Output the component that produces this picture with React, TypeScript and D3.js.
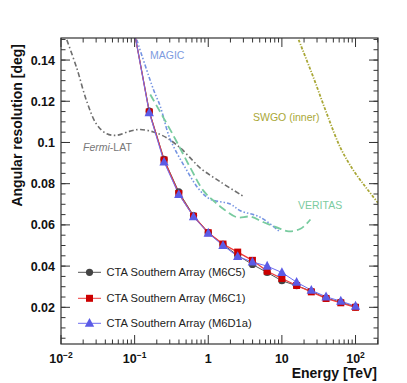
import React from 'react';
import * as d3 from 'd3';

// CTA energy bins [TeV] (5 per decade) and resolutions [deg]
const ctaEnergy = [0.1, 0.158, 0.251, 0.398, 0.631, 1, 1.585, 2.51, 3.98, 6.31, 10, 15.85, 25.1, 39.8, 63.1, 100];
const ctaM6C5 = [0.153, 0.1152, 0.0918, 0.076, 0.0645, 0.0563, 0.0505, 0.0452, 0.0408, 0.0369, 0.0329, 0.0305, 0.0278, 0.0245, 0.0225, 0.0202];
const ctaM6C1 = [0.153, 0.1148, 0.0915, 0.0752, 0.0642, 0.0562, 0.0507, 0.0468, 0.0428, 0.0375, 0.034, 0.0306, 0.0275, 0.0243, 0.0222, 0.02];
const ctaM6D1a = [0.153, 0.1145, 0.0905, 0.0748, 0.064, 0.056, 0.05, 0.0447, 0.042, 0.04, 0.0369, 0.0322, 0.0283, 0.0251, 0.023, 0.0206];

// other instruments
const fermiE = [0.012, 0.0164, 0.0224, 0.0306, 0.0419, 0.0573, 0.0869, 0.119, 0.18, 0.275, 0.416, 0.625, 0.778, 1.455, 3.02];
const fermiR = [0.1498, 0.136, 0.1199, 0.1087, 0.1042, 0.1035, 0.1055, 0.1063, 0.1051, 0.1022, 0.0974, 0.091, 0.0876, 0.0809, 0.0738];

const magicE = [0.107, 0.18, 0.222, 0.304, 0.486, 0.778, 1.064, 1.99, 2.72, 5.09, 9.55];
const magicR = [0.1498, 0.1257, 0.1177, 0.1016, 0.0878, 0.0765, 0.0725, 0.0701, 0.0669, 0.0637, 0.0564];

const veritasE = [0.163, 0.337, 0.569, 0.863, 1.18, 1.61, 2.45, 3.72, 5.65, 9.55, 12.4, 17.9, 24.4];
const veritasR = [0.1233, 0.1033, 0.0878, 0.0765, 0.0717, 0.0677, 0.0637, 0.064, 0.0613, 0.0581, 0.0569, 0.0581, 0.0626];

const swgoE = [16.9, 27.1, 41.2, 62.5, 94.8, 144, 206];
const swgoR = [0.1498, 0.1311, 0.1135, 0.0974, 0.0862, 0.0774, 0.0703];

const legendLabels = ['CTA Southern Array (M6C5)', 'CTA Southern Array (M6C1)', 'CTA Southern Array (M6D1a)'];

const W = 407;
const H = 383;
const left = 61, right = 378, top = 38, bottom = 344;
const font = '"Liberation Sans", Arial, Helvetica, sans-serif';

export default function App() {
  const x = d3.scaleLog().domain([0.01, 202]).range([left, right]);
  const y = d3.scaleLinear().domain([0.0022, 0.1507]).range([bottom, top]);

  const curve = (xs: number[], ys: number[], c: d3.CurveFactory) =>
    d3.line<number>().x((_, i) => x(xs[i])).y((_, i) => y(ys[i])).curve(c)(xs.map((_, i) => i)) || '';

  const poly = (ys: number[]) => curve(ctaEnergy, ys, d3.curveLinear);

  // ticks
  const xMajor = [0.01, 0.1, 1, 10, 100];
  const xMinor: number[] = [];
  [0.01, 0.1, 1, 10, 100].forEach(d => {
    for (let k = 2; k <= 9; k++) if (d * k <= 202) xMinor.push(d * k);
  });
  const yMajor = [0.02, 0.04, 0.06, 0.08, 0.1, 0.12, 0.14];
  const yMinor = d3.range(1, 31).map(i => i * 0.005).filter(v => v > 0.0022 && v < 0.1507);
  const xLabels = [['10', '\u22122'], ['10', '\u22121'], ['1', ''], ['10', ''], ['10', '2']];
  const yLabels = ['0.02', '0.04', '0.06', '0.08', '0.1', '0.12', '0.14'];

  const inFrame = (v: number) => v <= 0.1507 && v >= 0.0022;

  const tri = (cx: number, cy: number, s: number) =>
    `M${cx},${cy - s * 0.62} L${cx + s * 0.55},${cy + s * 0.42} L${cx - s * 0.55},${cy + s * 0.42} Z`;

  const series = [
    { data: ctaM6C5, line: '#555555', fill: '#444444', kind: 'circle', w: 1 },
    { data: ctaM6C1, line: '#ee3b3b', fill: '#cc0000', kind: 'square', w: 1.3 },
    { data: ctaM6D1a, line: '#6d6df0', fill: '#5b5be6', kind: 'tri', w: 1 },
  ];

  const marker = (kind: string, cx: number, cy: number, fill: string, key: string | number) => {
    if (kind === 'circle') return <circle key={key} cx={cx} cy={cy} r={3.6} fill={fill} />;
    if (kind === 'square') return <rect key={key} x={cx - 3.5} y={cy - 3.5} width={7} height={7} fill={fill} />;
    return <path key={key} d={tri(cx, cy, 8.5)} fill={fill} />;
  };

  return (
    <svg width={W} height={H} style={{ position: 'absolute', left: 0, top: 0, background: '#fff' }} fontFamily={font}>
      <defs>
        <clipPath id="frame">
          <rect x={left} y={top} width={right - left} height={bottom - top} />
        </clipPath>
      </defs>

      <g clipPath="url(#frame)" fill="none">
        <path d={curve(fermiE, fermiR, d3.curveCatmullRom)} stroke="#6e6e6e" strokeWidth={1.6} strokeDasharray="5 2.5 1.5 2.5" />
        <path d={curve(magicE, magicR, d3.curveCatmullRom)} stroke="#7493e2" strokeWidth={1.6} strokeDasharray="4 2 1.5 2 1.5 2" />
        <path d={curve(veritasE, veritasR, d3.curveCatmullRom)} stroke="#78cb9f" strokeWidth={1.8} strokeDasharray="8 4" />
        <path d={curve(swgoE, swgoR, d3.curveCatmullRom)} stroke="#a9a736" strokeWidth={1.8} strokeDasharray="3 1.5 1.2 1.5" />
        {series.map((s, i) => (
          <path key={i} d={poly(s.data)} stroke={s.line} strokeWidth={s.w} />
        ))}
      </g>
      <g>
        {series.map((s, i) =>
          <g key={i}>
            {s.data.map((v, j) => inFrame(v) ? marker(s.kind, x(ctaEnergy[j]), y(v), s.fill, j) : null)}
          </g>
        )}
      </g>

      {/* curve labels */}
      <text x={150} y={59} fontSize={10.5} fill="#7d9be0">MAGIC</text>
      <text x={83} y={151} fontSize={10.5} fill="#777777">
        <tspan fontStyle="italic">Fermi</tspan>-LAT
      </text>
      <text x={253} y={121} fontSize={10.5} fill="#a9a736">SWGO (inner)</text>
      <text x={298} y={209} fontSize={10.5} fill="#7bcba0">VERITAS</text>

      {/* legend */}
      {series.map((s, i) => {
        const ly = [272.3, 298.3, 323.3][i];
        return (
          <g key={i}>
            <line x1={78} x2={101} y1={ly} y2={ly} stroke={s.line} strokeWidth={1} />
            {marker(s.kind, 89.5, ly, s.fill, 'm')}
            <text x={106.5} y={ly + 3.9} fontSize={11.2} fill="#222">{legendLabels[i]}</text>
          </g>
        );
      })}

      {/* frame and ticks */}
      <rect x={left} y={top} width={right - left} height={bottom - top} fill="none" stroke="#333" strokeWidth={1.2} />
      <g stroke="#333" strokeWidth={1}>
        {xMajor.map(v => (
          <g key={'xM' + v}>
            <line x1={x(v)} x2={x(v)} y1={bottom} y2={bottom - 9} />
            <line x1={x(v)} x2={x(v)} y1={top} y2={top + 9} />
          </g>
        ))}
        {xMinor.map(v => (
          <g key={'xm' + v}>
            <line x1={x(v)} x2={x(v)} y1={bottom} y2={bottom - 4.5} />
            <line x1={x(v)} x2={x(v)} y1={top} y2={top + 4.5} />
          </g>
        ))}
        {yMajor.map(v => (
          <g key={'yM' + v}>
            <line x1={left} x2={left + 9} y1={y(v)} y2={y(v)} />
            <line x1={right} x2={right - 9} y1={y(v)} y2={y(v)} />
          </g>
        ))}
        {yMinor.map(v => (
          <g key={'ym' + v}>
            <line x1={left} x2={left + 4.5} y1={y(v)} y2={y(v)} />
            <line x1={right} x2={right - 4.5} y1={y(v)} y2={y(v)} />
          </g>
        ))}
      </g>

      {/* tick labels */}
      <g fontSize={12.5} fontWeight="bold" fill="#111">
        {yMajor.map((v, i) => (
          <text key={v} x={55} y={y(v) + 4.5} textAnchor="end">{yLabels[i]}</text>
        ))}
        {xMajor.map((v, i) => (
          <text key={v} x={x(v)} y={363} textAnchor="middle">
            {xLabels[i][0]}
            {xLabels[i][1] && <tspan fontSize={8.5} dy={-5.5}>{xLabels[i][1]}</tspan>}
          </text>
        ))}
      </g>

      {/* axis titles */}
      <text x={377} y={378} textAnchor="end" fontSize={14} fontWeight="bold" fill="#111">Energy [TeV]</text>
      <text transform="translate(22,44) rotate(-90)" textAnchor="end" fontSize={14} fontWeight="bold" fill="#111">
        Angular resolution [deg]
      </text>
    </svg>
  );
}
